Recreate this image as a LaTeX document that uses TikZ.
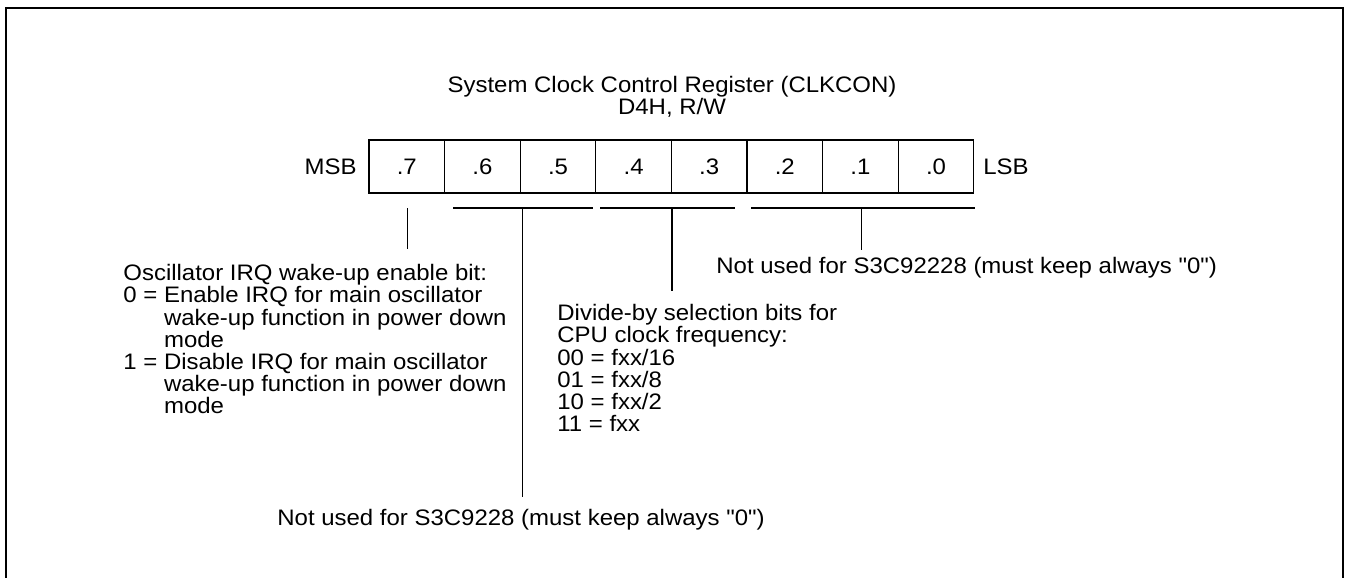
\documentclass[tikz,border=0pt]{standalone}
\usepackage{fontspec}
\setmainfont{Liberation Sans}[Ligatures=TeXOff, FakeStretch=1.07]

\begin{document}
\begin{tikzpicture}[x=0.5pt, y=-0.5pt,
    bitcell/.style={draw, line width=0.6pt, minimum width=37.8pt, minimum height=26.5pt, inner sep=0pt, font=\fontsize{11.2}{11.1}\selectfont},
    lbl/.style={inner sep=0pt, font=\fontsize{11.2}{11.1}\selectfont, align=left},
    brk/.style={line width=0.6pt}
]
\useasboundingbox (0,0) rectangle (1345,578);
% Rahmen
\draw[line width=1pt] (6,578) -- (6,8) -- (1343,8) -- (1343,578);

% Titel
\node[lbl, align=center] (title) at (672, 97) {System Clock Control Register (CLKCON)\\D4H, R/W};

% Register
\node[bitcell] (b7) at (406.8, 166.5) {.7};
\node[bitcell] (b6) at (482.4, 166.5) {.6};
\node[bitcell] (b5) at (558.0, 166.5) {.5};
\node[bitcell] (b4) at (633.6, 166.5) {.4};
\node[bitcell] (b3) at (709.2, 166.5) {.3};
\node[bitcell] (b2) at (784.8, 166.5) {.2};
\node[bitcell] (b1) at (860.4, 166.5) {.1};
\node[bitcell] (b0) at (936.0, 166.5) {.0};
\node[lbl, anchor=east] (msb) at (357, 166.5) {MSB};
\node[lbl, anchor=west] (lsb) at (983, 166.5) {LSB};

% Beschreibungen
\node[lbl, anchor=north west] (osc) at (123, 264) {Oscillator IRQ wake-up enable bit:\\
0 = Enable IRQ for main oscillator\\
\hphantom{0 = }wake-up function in power down\\
\hphantom{0 = }mode\\
1 = Disable IRQ for main oscillator\\
\hphantom{1 = }wake-up function in power down\\
\hphantom{1 = }mode};
\node[lbl, anchor=north west] (div) at (557, 304) {Divide-by selection bits for\\
CPU clock frequency:\\
00 = fxx/16\\
01 = fxx/8\\
10 = fxx/2\\
11 = fxx};
\node[lbl, anchor=west] (nulow) at (716, 268) {Not used for S3C92228 (must keep always "0")};
\node[lbl, anchor=west] (nuhigh) at (277, 520) {Not used for S3C9228 (must keep always "0")};

% Klammern
\coordinate (k7a) at (407.7, 208);
\coordinate (k7b) at (407.7, 249);
\coordinate (k65l) at (453, 208);
\coordinate (k65r) at (593, 208);
\coordinate (k65m) at (522.7, 208);
\coordinate (k65e) at (522.7, 497);
\coordinate (k43l) at (600, 208);
\coordinate (k43r) at (735, 208);
\coordinate (k43m) at (672, 208);
\coordinate (k43e) at (672, 291);
\coordinate (k20l) at (751, 208);
\coordinate (k20r) at (975, 208);
\coordinate (k20m) at (861.7, 208);
\coordinate (k20e) at (861.7, 250);

\draw[brk] (k7a) -- (k7b);
\draw[brk] (k65l) -- (k65r);
\draw[brk] (k65m) -- (k65e);
\draw[brk] (k43l) -- (k43r);
\draw[brk] (k43m) -- (k43e);
\draw[brk] (k20l) -- (k20r);
\draw[brk] (k20m) -- (k20e);
\end{tikzpicture}
\end{document}
